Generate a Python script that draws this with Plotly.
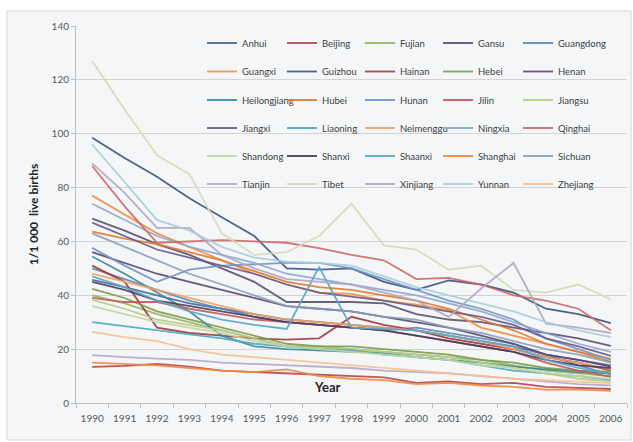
import plotly.graph_objects as go

years = [str(y) for y in range(1990, 2007)]

provinces = [
    "Anhui", "Beijing", "Fujian", "Gansu", "Guangdong",
    "Guangxi", "Guizhou", "Hainan", "Hebei", "Henan",
    "Heilongjiang", "Hubei", "Hunan", "Jilin", "Jiangsu",
    "Jiangxi", "Liaoning", "Neimenggu", "Ningxia", "Qinghai",
    "Shandong", "Shanxi", "Shaanxi", "Shanghai", "Sichuan",
    "Tianjin", "Tibet", "Xinjiang", "Yunnan", "Zhejiang",
]

anhui = [45.7, 43, 40, 37, 35, 33, 31, 30, 29, 28, 27, 25, 23, 21, 18, 16, 14]
beijing = [13.4, 13.8, 14.5, 13.5, 12, 11.5, 11, 10.5, 10, 9.5, 7.5, 8, 7, 7.5, 6, 5.5, 5.2]
fujian = [40, 37, 33, 30, 27, 24, 21, 21, 20, 19, 18, 17, 16, 14, 12, 11, 10]
gansu = [68.5, 64, 59, 55, 50, 45, 37.5, 37.5, 37.5, 37, 33, 31, 30, 28, 26, 24, 21.2]
guangdong = [50, 46, 42, 38, 35, 32, 30, 29, 28, 27, 28, 26, 24, 22, 18, 14, 10.5]
guangxi = [77, 70, 63, 58, 53, 48, 44, 41, 40.5, 38, 36.5, 34.5, 28, 25, 22, 19, 16.5]
guizhou = [98.5, 91, 84, 76, 69, 62, 50, 49.5, 50, 45, 42, 45.5, 44, 41, 35, 33, 29.7]
hainan = [51, 45, 28, 26, 25, 24, 23.5, 24, 32, 29, 27, 24, 22, 20, 17, 15, 12]
hebei = [42.4, 39, 34, 31, 28, 25, 22, 21, 21, 20, 19, 18, 16, 15, 13, 12, 11.6]
henan = [56, 52, 48, 45, 42, 39, 36, 35, 34, 32, 30, 28, 25, 22, 18, 16, 13.5]
heilongjiang = [54.4, 48, 41, 34, 25, 21, 20, 19.5, 19, 18.5, 17, 16, 15, 13.5, 12.5, 11.5, 11]
hubei = [63.6, 61, 59, 56, 53, 49, 45, 43, 42, 40, 38, 35, 31, 27, 22, 19, 15.3]
hunan = [57.6, 51, 45, 49.5, 51, 51.5, 52, 52, 50, 46, 42, 38, 35, 31, 24, 20, 16]
jilin = [39, 37.5, 37.5, 35, 33, 31, 30, 29, 28, 27, 25, 23, 21, 19, 15, 12, 9.7]
jiangsu = [38.3, 35, 31, 29, 27, 24, 21, 20.5, 20, 19, 18, 17, 15, 13, 11, 9, 8]
jiangxi = [67, 62, 57, 54, 51, 48, 44, 41, 39.5, 38, 36, 34, 32, 29, 24, 21, 17.5]
liaoning = [30, 28.5, 27, 25.5, 24, 22, 21, 20, 19.5, 18, 17, 16, 14, 12, 11, 10, 8.6]
neimenggu = [48, 45, 42, 39, 36, 33, 31, 30, 29, 28, 27, 25, 23, 20, 17, 15, 12.5]
ningxia = [74, 68, 62, 58, 55, 52, 48, 46, 44, 42, 40, 37, 34, 30, 26, 22, 19]
qinghai = [88, 73, 59.5, 60, 60.5, 60, 59.5, 57.5, 55, 53, 46, 46.5, 44, 40, 38, 35, 27]
shandong = [36, 33, 30, 28, 26, 23, 21, 20, 19, 18, 17, 16, 14, 13, 11, 10, 9]
shanxi = [45, 42, 38, 36, 34, 32, 30, 29, 28, 27, 25, 23, 21, 19, 16, 14, 13]
shaanxi = [47, 43, 38, 34, 31, 29, 27.5, 50.5, 28, 27.5, 27, 25, 23, 21, 16, 13, 10.8]
shanghai = [15, 14.5, 14, 13, 12, 11.5, 12.5, 10, 9, 8.5, 7, 7.5, 6.5, 6, 5, 5, 4.5]
sichuan = [63, 58, 53, 48, 44, 40, 36, 35, 34, 32, 31, 28, 26, 23, 20, 18, 15]
tianjin = [17.8, 17, 16.5, 16, 15, 14.5, 14, 13.5, 13, 12, 11.5, 11, 10, 9, 8, 7, 6.5]
tibet = [127, 109, 92, 85, 63, 55, 56, 62, 74, 58.5, 57, 49.5, 51, 42, 41, 44, 38.5]
xinjiang = [89, 78, 65, 65, 55, 50, 46, 45, 44, 41, 38, 32, 42.5, 52, 29.5, 28, 26]
yunnan = [96, 82, 68, 64, 58, 54, 52.5, 52, 51, 47, 43, 40, 37, 34, 30, 27, 24.5]
zhejiang = [26.4, 24.5, 23, 20, 18, 17, 16, 15, 14, 13, 12, 11, 10, 9, 8.5, 8, 7.4]

series = [
    anhui, beijing, fujian, gansu, guangdong,
    guangxi, guizhou, hainan, hebei, henan,
    heilongjiang, hubei, hunan, jilin, jiangsu,
    jiangxi, liaoning, neimenggu, ningxia, qinghai,
    shandong, shanxi, shaanxi, shanghai, sichuan,
    tianjin, tibet, xinjiang, yunnan, zhejiang,
]

colors = [
    "#4a6a9a", "#b8474a", "#9bb35a", "#5a5070", "#5b8ab8",
    "#f0914a", "#3a5580", "#a33a3a", "#7c9c48", "#5b4574",
    "#3d8a9a", "#e07a30", "#7196c8", "#c8585a", "#b8cc85",
    "#6a5a8a", "#4aaac4", "#f5a060", "#8fa8d0", "#d06868",
    "#c5d6a0", "#4a3c60", "#5aa8c8", "#f08a40", "#8aa0b8",
    "#b8a8c8", "#d4dcb8", "#b0a8c0", "#a8d0dc", "#f8c090",
]

# plot-area geometry in pixels (used to place the legend grid and the frame)
W, H = 633, 442
L, R, T, B = 76, 6, 26, 39
pw, ph = W - L - R, H - T - B


def px_x(x):
    return (x - L) / pw


def px_y(y):
    return (H - B - y) / ph


font_family = "Lato, 'Liberation Sans', sans-serif"

# legend grid: 5 columns x 6 rows, one legend box per entry
n_cols = 5
col_text_x = [242, 322, 400, 478, 558]
row_centers = [43, 71.5, 100, 128, 156, 184]

fig = go.Figure()
legends = {}
for i, (name, vals, col) in enumerate(zip(provinces, series, colors)):
    key = "legend" if i == 0 else f"legend{i + 1}"
    r, c = divmod(i, n_cols)
    fig.add_trace(go.Scatter(
        x=years, y=vals, name=name, mode="lines",
        line=dict(color=col, width=1.8), opacity=0.9,
        legend=key,
    ))
    legends[key] = dict(
        x=px_x(col_text_x[c] - 40), y=px_y(row_centers[r]),
        xanchor="left", yanchor="middle",
        bgcolor="rgba(0,0,0,0)", borderwidth=0,
        font=dict(family=font_family, size=9.5, color="#404040"),
    )

fig.update_layout(
    width=W, height=H,
    margin=dict(l=L, r=R, t=T, b=B),
    paper_bgcolor="white",
    plot_bgcolor="rgba(0,0,0,0)",
    font=dict(family=font_family, size=10, color="#595959"),
    showlegend=True,
    **legends,
    shapes=[dict(
        type="rect", xref="paper", yref="paper", layer="below",
        x0=px_x(7), x1=px_x(631), y0=px_y(440), y1=px_y(11),
        fillcolor="#f4f6f7", line=dict(color="#d6d6d6", width=1),
    )],
    annotations=[dict(
        text="<b>Year</b>", xref="paper", yref="paper",
        x=px_x(327), y=px_y(397), showarrow=False,
        font=dict(family=font_family, size=13, color="#262626"),
    )],
)

fig.update_xaxes(
    type="category", range=[-0.5, 16.5], tickangle=0,
    showgrid=False, showline=True, linecolor="#bfbfbf", linewidth=1,
    ticks="outside", tickson="boundaries", ticklen=4, tickcolor="#bfbfbf",
    ticklabelstandoff=6,
    tickfont=dict(size=10, color="#595959"),
)
fig.update_yaxes(
    range=[0, 140], dtick=20,
    showgrid=True, gridcolor="#d3d3d3", gridwidth=1,
    showline=True, linecolor="#bfbfbf", linewidth=1,
    ticks="outside", ticklen=4, tickcolor="#bfbfbf",
    tickfont=dict(size=10, color="#595959"),
    zeroline=False,
    title=dict(text="<b>1/1 000  live births</b>", standoff=10,
               font=dict(family=font_family, size=12, color="#262626")),
)

fig.write_html("out.html")
